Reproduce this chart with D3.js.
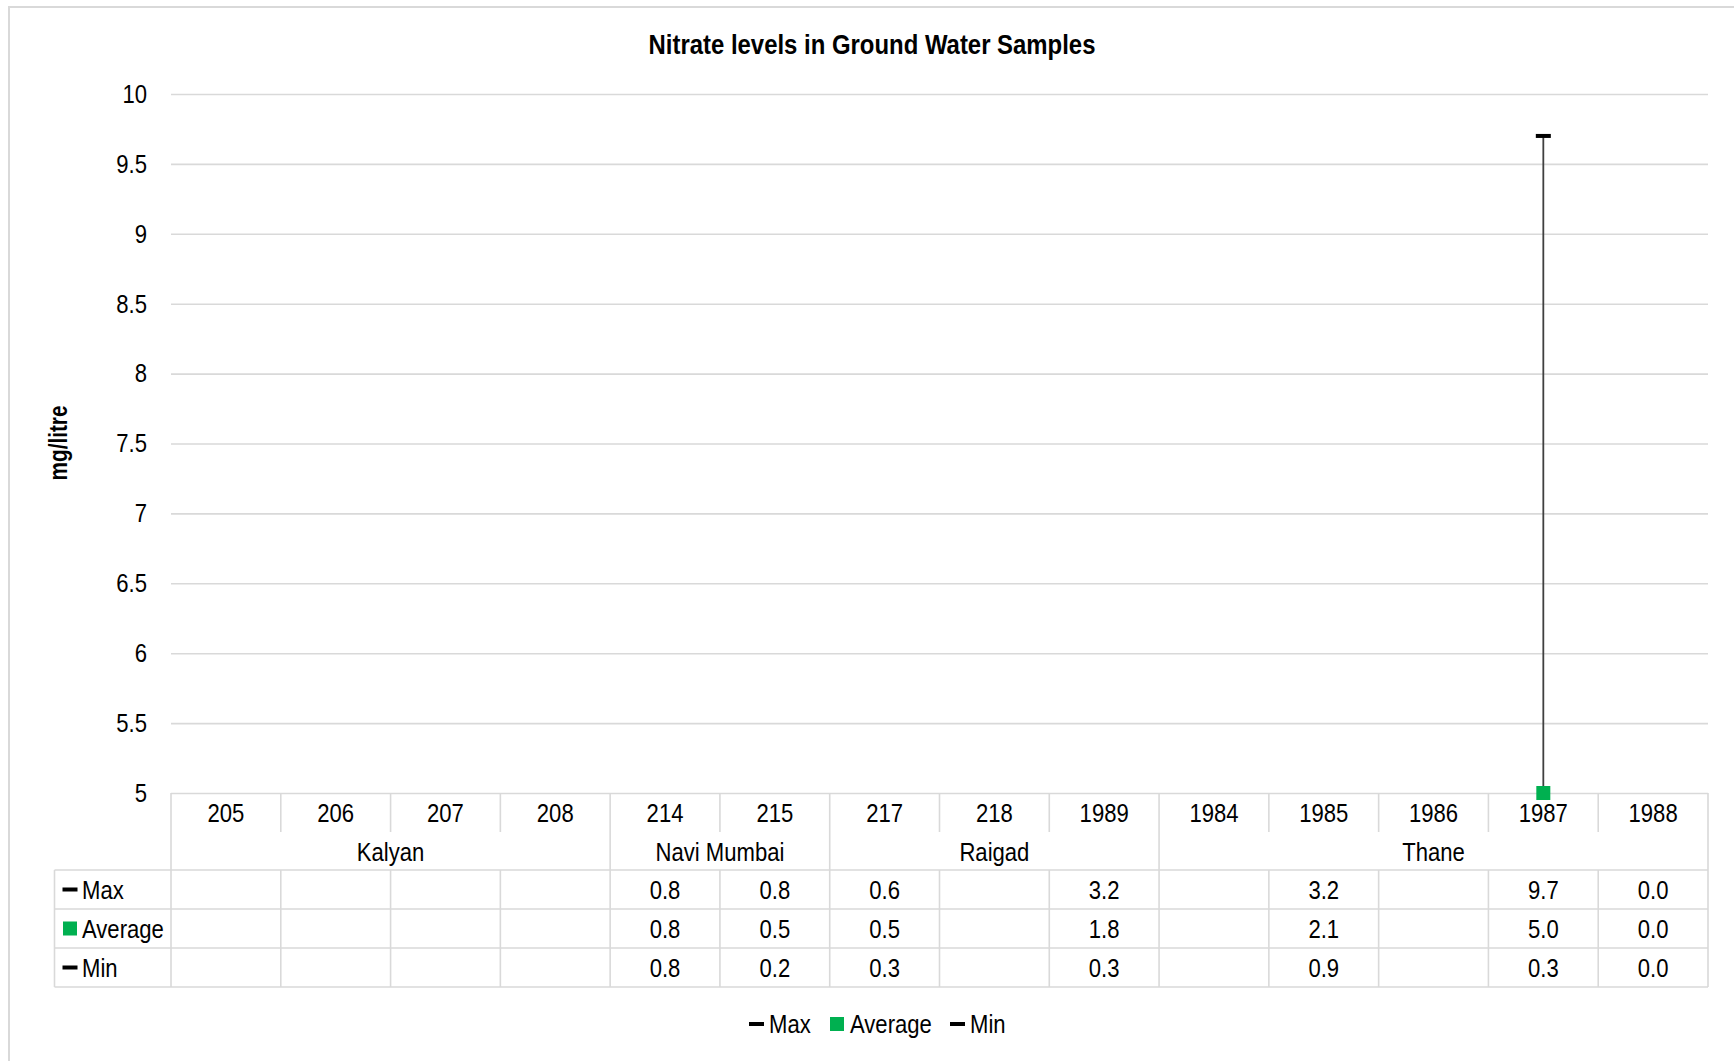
<!DOCTYPE html>
<html>
<head>
<meta charset="utf-8">
<script src="https://cdn.jsdelivr.net/npm/d3@7"></script>
<style>
  html, body { margin: 0; padding: 0; background: #fff; }
  svg { display: block; }
  text { font-family: "Liberation Sans", Arial, sans-serif; fill: #000; }
</style>
</head>
<body>
<svg id="chart" width="1734" height="1061"></svg>
<script>
// ---------------- data ----------------
const categories = ["205","206","207","208","214","215","217","218","1989","1984","1985","1986","1987","1988"];
const regionOfCategory = ["Kalyan","Kalyan","Kalyan","Kalyan","Navi Mumbai","Navi Mumbai","Raigad","Raigad","Raigad","Thane","Thane","Thane","Thane","Thane"];
const maxValues = [null,null,null,null,0.8,0.8,0.6,null,3.2,null,3.2,null,9.7,0.0];
const avgValues = [null,null,null,null,0.8,0.5,0.5,null,1.8,null,2.1,null,5.0,0.0];
const minValues = [null,null,null,null,0.8,0.2,0.3,null,0.3,null,0.9,null,0.3,0.0];
const yTicks = [5,5.5,6,6.5,7,7.5,8,8.5,9,9.5,10];
const seriesNames = ["Max","Average","Min"];
const title = "Nitrate levels in Ground Water Samples";
const yTitle = "mg/litre";

// ---------------- layout ----------------
const W = 1734, H = 1061;
const plotL = 171, plotR = 1708, plotT = 94, plotB = 793;
const rowY = [793, 832, 870, 909, 948, 987];
const tableL = 54.5;
const grid = "#d9d9d9";
const green = "#00B050";
const NARROW = 0.85;
const FS = 26;

// condense text horizontally (emulates a narrow face)
function narrow(sel) {
  sel.each(function () {
    const t = d3.select(this);
    const xx = +t.attr("x") || 0, yy = +t.attr("y") || 0;
    t.attr("x", 0).attr("y", 0).attr("transform", `translate(${xx},${yy}) scale(${NARROW},1)`);
  });
}

const svg = d3.select("#chart");
svg.append("rect").attr("width", W).attr("height", H).attr("fill", "#fff");
svg.append("path").attr("d", `M9,${H} V7 H${W}`).attr("fill", "none").attr("stroke", grid).attr("stroke-width", 2);

const x = d3.scaleBand().domain(categories).range([plotL, plotR]).padding(0);
const y = d3.scaleLinear().domain([5, 10]).range([plotB, plotT]);
const fmt = d3.format(".1f");

// title, fitted to the reference width
const tt = svg.append("text").attr("x", 0).attr("y", 0).attr("text-anchor", "middle")
  .attr("font-size", 27).attr("font-weight", "bold").text(title);
const tScale = 447 / tt.node().getComputedTextLength();
tt.attr("transform", `translate(872,54) scale(${tScale},1)`);

// y axis title
const yt = svg.append("text").attr("text-anchor", "middle")
  .attr("font-size", 25).attr("font-weight", "bold").text(yTitle);
const ytScale = 75 / yt.node().getComputedTextLength();
yt.attr("transform", `translate(67,443) rotate(-90) scale(${ytScale},1)`);

// gridlines + y labels via axis
const yAxis = d3.axisLeft(y).tickValues(yTicks).tickSize(-(plotR - plotL)).tickPadding(24)
  .tickFormat(d => String(d));
const gy = svg.append("g").attr("transform", `translate(${plotL},0)`).call(yAxis);
gy.select(".domain").remove();
gy.selectAll(".tick line").attr("stroke", grid).attr("stroke-width", 1.6);
gy.selectAll(".tick text").attr("font-size", FS).attr("fill", "#000")
  .attr("font-family", '"Liberation Sans", Arial, sans-serif').call(narrow);

// ---------------- table ----------------
const tg = svg.append("g").attr("stroke", grid).attr("stroke-width", 1.6).attr("fill", "none");
function hline(x1, x2, yy) { tg.append("line").attr("x1", x1).attr("x2", x2).attr("y1", yy).attr("y2", yy); }
function vline(xx, y1, y2) { tg.append("line").attr("x1", xx).attr("x2", xx).attr("y1", y1).attr("y2", y2); }

for (let i = 2; i < rowY.length; i++) hline(tableL, plotR, rowY[i]);
vline(tableL, rowY[2], rowY[5]);
vline(plotL, rowY[0], rowY[5]);
vline(plotR, rowY[0], rowY[5]);
categories.forEach((c, i) => {
  if (i === 0) return;
  const xx = x(c);
  if (regionOfCategory[i] !== regionOfCategory[i - 1]) {
    vline(xx, rowY[0], rowY[5]);
  } else {
    vline(xx, rowY[0], rowY[1]);
    vline(xx, rowY[2], rowY[5]);
  }
});

const txt = svg.append("g").attr("font-size", FS).attr("text-anchor", "middle");
txt.selectAll(".cat").data(categories).join("text")
  .attr("x", d => x(d) + x.bandwidth() / 2).attr("y", (rowY[0] + rowY[1]) / 2 + 9.5).text(d => d).call(narrow);
const regions = [];
regionOfCategory.forEach((r, i) => {
  if (!regions.length || regions[regions.length - 1].name !== r) regions.push({ name: r, first: i, last: i });
  else regions[regions.length - 1].last = i;
});
txt.selectAll(".reg").data(regions).join("text")
  .attr("x", d => (x(categories[d.first]) + x(categories[d.last]) + x.bandwidth()) / 2)
  .attr("y", (rowY[1] + rowY[2]) / 2 + 9.5).text(d => d.name).call(narrow);
[maxValues, avgValues, minValues].forEach((vals, r) => {
  const yy = (rowY[2 + r] + rowY[3 + r]) / 2 + 9.5;
  txt.selectAll(".v" + r).data(vals.map((v, i) => ({ v, i })).filter(d => d.v !== null)).join("text")
    .attr("x", d => x(categories[d.i]) + x.bandwidth() / 2).attr("y", yy).text(d => fmt(d.v)).call(narrow);
});

function keySymbol(g, name, cx, cy) {
  if (name === "Average") {
    g.append("rect").attr("x", cx - 7).attr("y", cy - 7).attr("width", 14).attr("height", 14).attr("fill", green);
  } else {
    g.append("rect").attr("x", cx - 7.5).attr("y", cy - 2).attr("width", 15).attr("height", 4).attr("fill", "#000");
  }
}
seriesNames.forEach((s, r) => {
  const cy = (rowY[2 + r] + rowY[3 + r]) / 2;
  keySymbol(svg, s, 70, cy);
  svg.append("text").attr("x", 82).attr("y", cy + 9.5).attr("font-size", FS).text(s).call(narrow);
});

// ---------------- marks ----------------
svg.append("clipPath").attr("id", "plotClip").append("rect")
  .attr("x", plotL).attr("y", plotT).attr("width", plotR - plotL).attr("height", plotB - plotT);
const hl = categories.map((c, i) => ({ c, hi: maxValues[i], lo: minValues[i] })).filter(d => d.hi !== null && d.lo !== null);
svg.append("g").attr("clip-path", "url(#plotClip)").selectAll("line").data(hl).join("line")
  .attr("x1", d => x(d.c) + x.bandwidth() / 2).attr("x2", d => x(d.c) + x.bandwidth() / 2)
  .attr("y1", d => y(d.hi)).attr("y2", d => y(d.lo))
  .attr("stroke", "#404040").attr("stroke-width", 1.8);

const inRange = v => v !== null && v >= 5 && v <= 10;
const mk = svg.append("g");
[maxValues, minValues].forEach(vals => {
  mk.selectAll(null).data(vals.map((v, i) => ({ v, c: categories[i] })).filter(d => inRange(d.v))).join("rect")
    .attr("x", d => x(d.c) + x.bandwidth() / 2 - 7.5).attr("y", d => y(d.v) - 2)
    .attr("width", 15).attr("height", 4).attr("fill", "#000");
});
mk.selectAll(null).data(avgValues.map((v, i) => ({ v, c: categories[i] })).filter(d => inRange(d.v))).join("rect")
  .attr("x", d => x(d.c) + x.bandwidth() / 2 - 7).attr("y", d => y(d.v) - 7)
  .attr("width", 14).attr("height", 14).attr("fill", green);

// ---------------- bottom legend ----------------
const legendItems = [
  { name: "Max", sx: 756.5, tx: 769 },
  { name: "Average", sx: 837, tx: 850 },
  { name: "Min", sx: 957.5, tx: 970 }
];
const lg = svg.append("g");
legendItems.forEach(it => {
  keySymbol(lg, it.name, it.sx, 1024);
  lg.append("text").attr("x", it.tx).attr("y", 1033).attr("font-size", FS).text(it.name).call(narrow);
});
</script>
</body>
</html>
